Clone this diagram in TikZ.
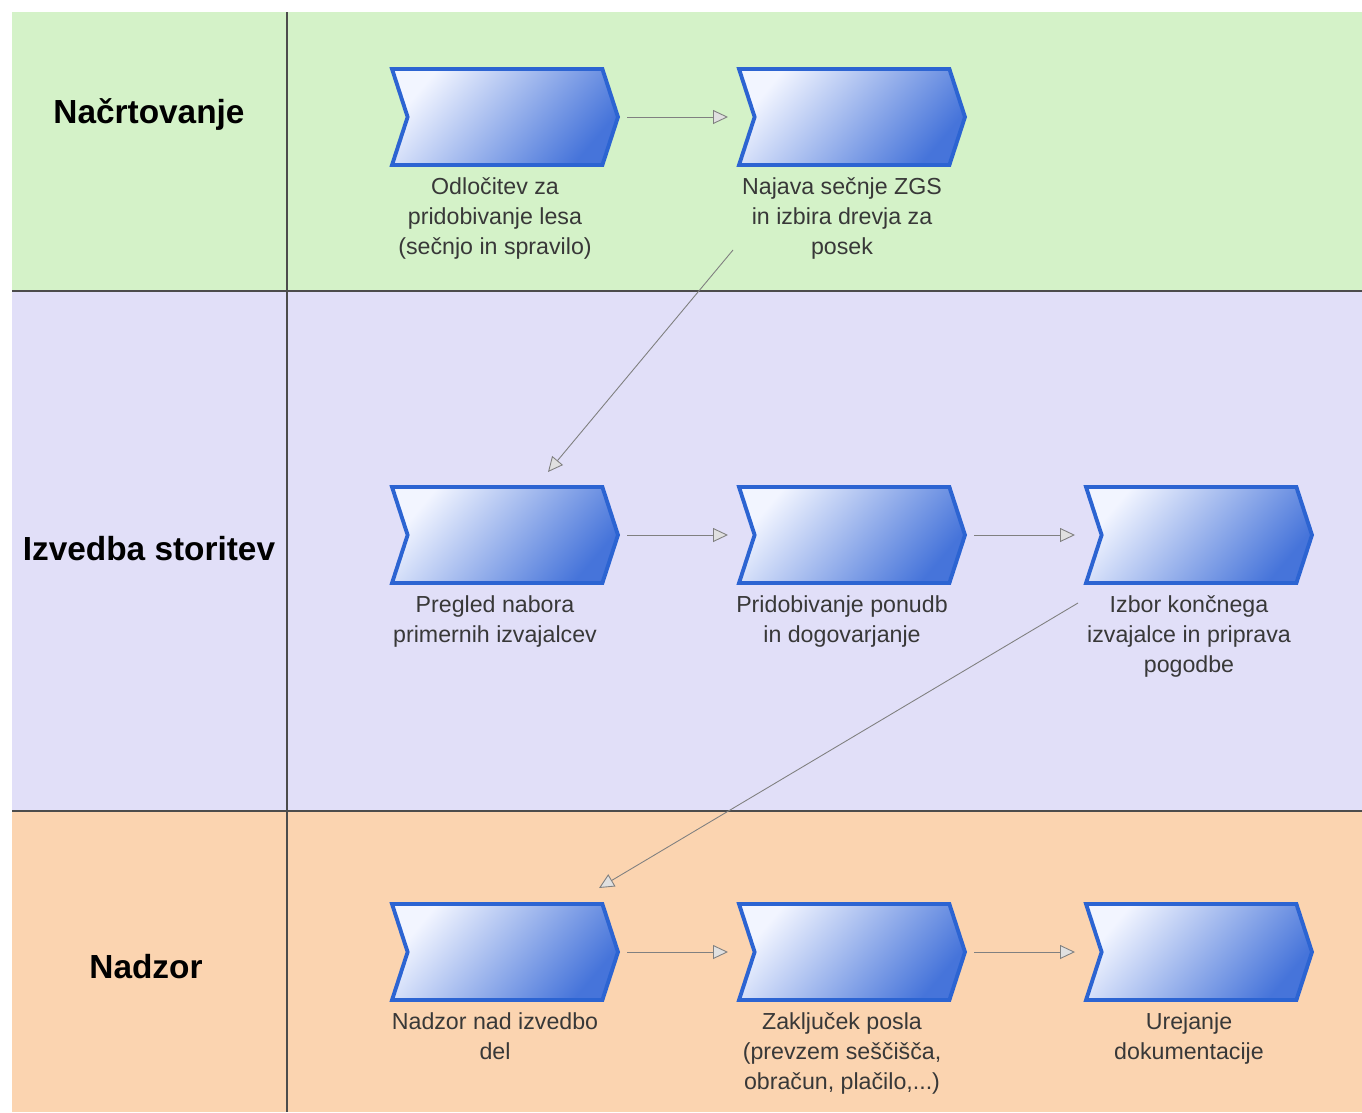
\documentclass[tikz,border=0pt]{standalone}
\usepackage{fontspec}
\setmainfont{Liberation Sans}
\usetikzlibrary{arrows.meta, positioning, shapes.symbols}

\definecolor{planlane}{HTML}{D4F2C8}
\definecolor{execlane}{HTML}{E1DFF8}
\definecolor{controllane}{HTML}{FBD4B0}
\definecolor{taskborder}{HTML}{2C64D2}
\definecolor{tasklight}{HTML}{F2F5FF}
\definecolor{taskdark}{HTML}{4674DA}

\begin{document}
\begin{tikzpicture}[
  x=0.02cm, y=-0.02cm,
  task/.style={signal, signal to=east, signal from=west, signal pointer angle=144,
    draw=taskborder, line width=2.2pt, minimum width=4.52cm, minimum height=1.92cm,
    inner sep=0pt, top color=tasklight, bottom color=taskdark, shading angle=50},
  lbl/.style={align=center, text=black!78, inner sep=0pt,
    font=\fontsize{13.2}{17.1}\selectfont},
  lanename/.style={font=\fontsize{19}{22}\selectfont\bfseries},
  laneline/.style={draw=black!70, line width=1.2pt},
  flow/.style={draw=black!50, line width=0.5pt,
    -{Triangle[fill=black!12, length=3mm, width=2.8mm]}}
]
\useasboundingbox (0,0) rectangle (1362,1112);

% Lanes
\fill[planlane] (12,12) rectangle (1362,291);
\fill[execlane] (12,291) rectangle (1362,811);
\fill[controllane] (12,811) rectangle (1362,1112);
\draw[laneline] (12,291) -- (1362,291);
\draw[laneline] (12,811) -- (1362,811);
\draw[laneline] (287,12) -- (287,1112);

\node[lanename] (plan) at (149,115) {Načrtovanje};
\node[lanename] (exec) at (149,549) {Izvedba storitev};
\node[lanename] (ctrl) at (146,967) {Nadzor};

% Tasks
\node[task] (c1) at (505,117) {};
\node[task] (c2) at (852,117) {};
\node[task] (c3) at (505,535) {};
\node[task] (c4) at (852,535) {};
\node[task] (c5) at (1199,535) {};
\node[task] (c6) at (505,952) {};
\node[task] (c7) at (852,952) {};
\node[task] (c8) at (1199,952) {};

\node[lbl, below=2mm of c1, xshift=-2mm] (t1) {Odločitev za\\pridobivanje lesa\\(sečnjo in spravilo)};
\node[lbl, below=2mm of c2, xshift=-2mm] (t2) {Najava sečnje ZGS\\in izbira drevja za\\posek};
\node[lbl, below=2mm of c3, xshift=-2mm] (t3) {Pregled nabora\\primernih izvajalcev};
\node[lbl, below=2mm of c4, xshift=-2mm] (t4) {Pridobivanje ponudb\\in dogovarjanje};
\node[lbl, below=2mm of c5, xshift=-2mm] (t5) {Izbor končnega\\izvajalce in priprava\\pogodbe};
\node[lbl, below=2mm of c6, xshift=-2mm] (t6) {Nadzor nad izvedbo\\del};
\node[lbl, below=2mm of c7, xshift=-2mm] (t7) {Zaključek posla\\(prevzem seščišča,\\obračun, plačilo,...)};
\node[lbl, below=2mm of c8, xshift=-2mm] (t8) {Urejanje\\dokumentacije};

% Connections
\draw[flow] ([shift={(122,0)}]c1.center) -- ([shift={(-124,0)}]c2.center);
\draw[flow] ([shift={(-119,133)}]c2.center) -- ([shift={(43,-63)}]c3.center);
\draw[flow] ([shift={(122,0)}]c3.center) -- ([shift={(-124,0)}]c4.center);
\draw[flow] ([shift={(122,0)}]c4.center) -- ([shift={(-124,0)}]c5.center);
\draw[flow] ([shift={(-121,68)}]c5.center) -- ([shift={(94,-64)}]c6.center);
\draw[flow] ([shift={(122,0)}]c6.center) -- ([shift={(-124,0)}]c7.center);
\draw[flow] ([shift={(122,0)}]c7.center) -- ([shift={(-124,0)}]c8.center);

\end{tikzpicture}
\end{document}
